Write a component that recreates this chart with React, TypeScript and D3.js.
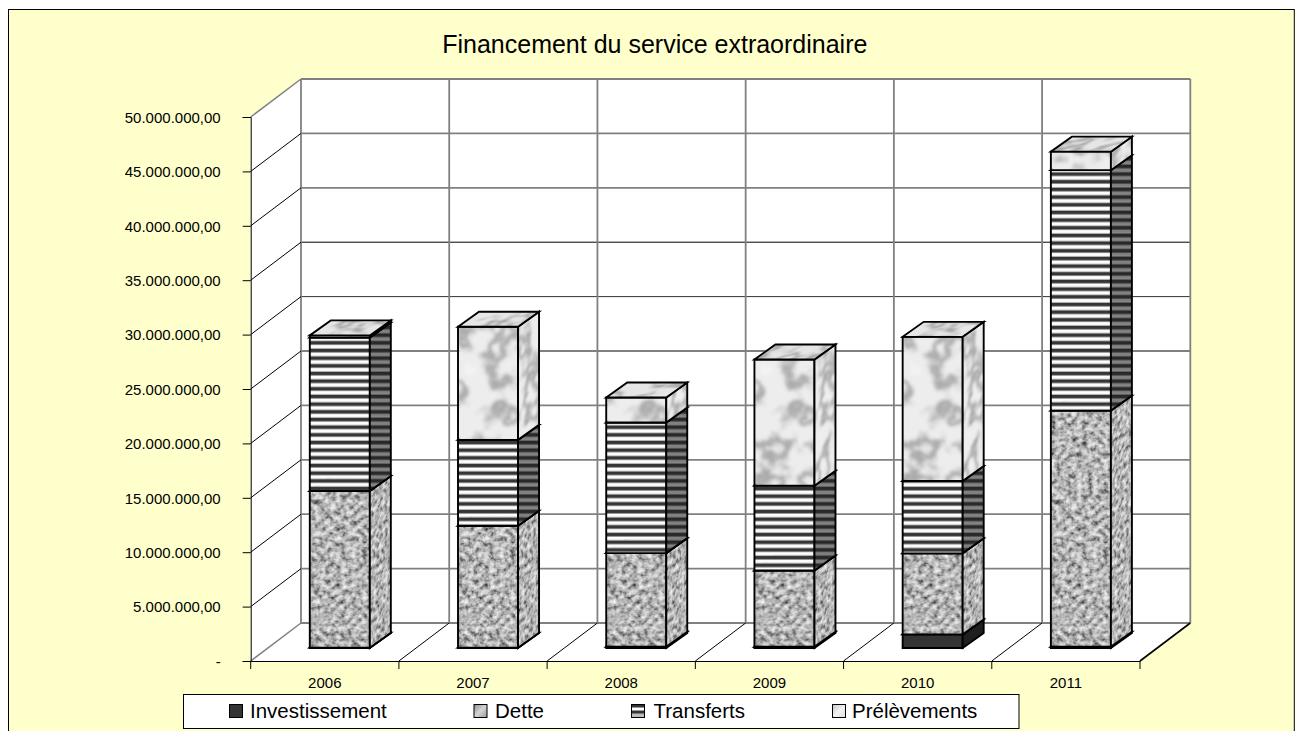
import * as d3 from "d3";
import { useEffect, useRef } from "react";

const years = ["2006", "2007", "2008", "2009", "2010", "2011"];
const seriesNames = ["Investissement", "Dette", "Transferts", "Prélèvements"];

// values in millions
const investissement = [0.03, 0.03, 0.12, 0.12, 1.25, 0.12];
const dette = [14.4, 11.2, 8.6, 7.0, 7.45, 21.7];
const transferts = [14.1, 7.9, 12.0, 7.8, 6.65, 22.1];
const prelevements = [0.2, 10.4, 2.3, 11.6, 13.25, 1.7];

const yTicks = [0, 5, 10, 15, 20, 25, 30, 35, 40, 45, 50];

const rows = years.map((year, i) => ({
    year,
    Investissement: investissement[i],
    Dette: dette[i],
    Transferts: transferts[i],
    "Prélèvements": prelevements[i],
}));

const WIDTH = 1295;
const HEIGHT = 731;

const plot = { left: 250.7, right: 1140, bottom: 661, top: 117 };
const wall = { dx: 50.3, dy: 38 };
const barShift = { x: 15, y: 13 };
const depth = { x: 21, y: 15 };

const frenchFormat = d3.formatLocale({
    decimal: ",",
    thousands: ".",
    grouping: [3],
    currency: ["", ""],
}).format(",.2f");

const faces: Record<string, { front: string; side: string; top: string }> = {
    Investissement: { front: "#333333", side: "#1f1f1f", top: "#2a2a2a" },
    Dette: { front: "url(#granite)", side: "url(#graniteSide)", top: "url(#graniteTop)" },
    Transferts: { front: "url(#stripes)", side: "url(#stripesSide)", top: "#333333" },
    "Prélèvements": { front: "url(#marble)", side: "url(#marbleSide)", top: "url(#marbleTop)" },
};

const keyFill: Record<string, string> = {
    Investissement: "#333333",
    Dette: "url(#keyDette)",
    Transferts: "url(#keyStripes)",
    "Prélèvements": "url(#keyMarble)",
};

const legendPos = [
    { key: 229, text: 250 },
    { key: 473.5, text: 495 },
    { key: 631, text: 653.5 },
    { key: 832, text: 852 },
];

const App = () => {
    const ref = useRef<SVGSVGElement>(null);

    useEffect(() => {
        const svg = d3.select(ref.current);
        svg.selectAll("*").remove();
        svg.style("font-family", "'Liberation Sans', Arial, sans-serif");

        const defs = svg.append("defs");

        const noise = (id, freq, octaves, seed, table, blur) => {
            const f = defs.append("filter")
                .attr("id", id)
                .attr("x", 0).attr("y", 0).attr("width", 1).attr("height", 1)
                .attr("color-interpolation-filters", "sRGB");
            f.append("feTurbulence")
                .attr("type", "fractalNoise")
                .attr("baseFrequency", freq)
                .attr("numOctaves", octaves)
                .attr("seed", seed)
                .attr("stitchTiles", "stitch");
            f.append("feColorMatrix")
                .attr("values", "1 0 0 0 0 1 0 0 0 0 1 0 0 0 0 0 0 0 0 1");
            const t = f.append("feComponentTransfer");
            ["feFuncR", "feFuncG", "feFuncB"].forEach(c =>
                t.append(c).attr("type", "table").attr("tableValues", table));
            f.append("feGaussianBlur").attr("stdDeviation", blur);
        };

        noise("graniteNoise", 0.19, 3, 11, "0.1 0.22 0.4 0.58 0.72 0.82 0.9 0.96 1", 0.75);
        noise("marbleNoise", 0.032, 4, 5, "0.94 0.94 0.94 0.94 0.94 0.94 0.93 0.9 0.83 0.74 0.66 0.74 0.83 0.9 0.93 0.93 0.93 0.93 0.93 0.94 0.95 0.95 0.95 0.95 0.95 0.95", 1.7);

        const texture = (id, filter, transform, shade = 0) => {
            const p = defs.append("pattern")
                .attr("id", id)
                .attr("patternUnits", "userSpaceOnUse")
                .attr("width", 300).attr("height", 1600)
                .attr("patternTransform", transform);
            p.append("rect").attr("width", 300).attr("height", 1600).attr("filter", `url(#${filter})`);
            if (shade) p.append("rect").attr("width", 300).attr("height", 1600).attr("fill", "#000").attr("opacity", shade);
        };
        const skewSide = `skewY(${-Math.atan2(depth.y, depth.x) * 180 / Math.PI}) scale(0.55,1)`;
        const skewTop = `skewX(${-Math.atan2(depth.x, depth.y) * 180 / Math.PI}) scale(1,0.45)`;
        texture("granite", "graniteNoise", "translate(0,0)");
        texture("graniteSide", "graniteNoise", skewSide);
        texture("graniteTop", "graniteNoise", skewTop);
        texture("marble", "marbleNoise", "translate(0,0)");
        texture("marbleSide", "marbleNoise", skewSide);
        texture("marbleTop", "marbleNoise", skewTop, 0.03);

        const stripePattern = (id, bands) => {
            const p = defs.append("pattern")
                .attr("id", id)
                .attr("patternUnits", "userSpaceOnUse")
                .attr("width", 20).attr("height", 7.67);
            let yy = 0;
            bands.forEach(([h, c]) => {
                p.append("rect").attr("y", yy).attr("width", 20).attr("height", h).attr("fill", c);
                yy += h;
            });
        };
        stripePattern("stripes", [[2.8, "#fdfdfd"], [1, "#b4b4b4"], [2.9, "#353535"], [0.97, "#909090"]]);
        stripePattern("stripesSide", [[2.8, "#808080"], [1, "#5c5c5c"], [2.9, "#282828"], [0.97, "#4f4f4f"]]);

        const grad = (id, stops) => {
            const g = defs.append("linearGradient").attr("id", id)
                .attr("x1", 0).attr("y1", 0).attr("x2", 1).attr("y2", 1);
            stops.forEach((c, i) => g.append("stop").attr("offset", i / (stops.length - 1)).attr("stop-color", c));
        };
        grad("keyDette", ["#8f8f8f", "#d5d5d5", "#9a9a9a"]);
        grad("keyMarble", ["#c4c4c4", "#f2f2f2", "#dedede"]);
        const ks = defs.append("pattern").attr("id", "keyStripes")
            .attr("patternUnits", "objectBoundingBox").attr("width", 1).attr("height", 1);
        [["#bbbbbb", 14], ["#333333", 9], ["#ffffff", 6], ["#333333", 3]].forEach(([c, h]) =>
            ks.append("rect").attr("width", 14).attr("height", h).attr("fill", c));

        // scales
        const x = d3.scaleBand().domain(years).range([plot.left, plot.right]);
        const y = d3.scaleLinear().domain([0, 50]).range([plot.bottom, plot.top]);
        const xBar = d3.scaleBand().domain(years)
            .range([plot.left + barShift.x, plot.right + barShift.x])
            .paddingInner(0.595)
            .paddingOuter(0.2975);
        const yBar = (v: number) => y(v) - barShift.y;

        const line = d3.line();
        const poly = (pts) => line(pts) + "Z";

        // frame
        svg.append("rect")
            .attr("x", 8.5).attr("y", 9.5)
            .attr("width", 1285.8).attr("height", HEIGHT)
            .attr("fill", "#FFFFCC")
            .attr("stroke", "#000");

        svg.append("text")
            .attr("x", 654.8).attr("y", 53.3)
            .attr("text-anchor", "middle")
            .attr("font-size", 25)
            .attr("fill", "#000")
            .text("Financement du service extraordinaire");

        // walls and floor
        const backLeft = plot.left + wall.dx;
        const backRight = plot.right + wall.dx;
        const walls = svg.append("g").attr("fill", "#fff").attr("stroke", "none");
        walls.append("path").attr("d", poly([
            [plot.left, y(0)], [backLeft, y(0) - wall.dy], [backLeft, y(50) - wall.dy], [plot.left, y(50)],
        ]));
        walls.append("path").attr("d", poly([
            [backLeft, y(0) - wall.dy], [backRight, y(0) - wall.dy], [backRight, y(50) - wall.dy], [backLeft, y(50) - wall.dy],
        ]));
        walls.append("path").attr("d", poly([
            [plot.left, y(0)], [plot.right, y(0)], [backRight, y(0) - wall.dy], [backLeft, y(0) - wall.dy],
        ]));

        // back wall grid
        const grid = svg.append("g").attr("stroke", "#808080").attr("stroke-width", 1.8);
        yTicks.forEach(t => {
            const thin = t === 35 || t === 30;
            grid.append("line")
                .attr("x1", backLeft).attr("x2", backRight)
                .attr("y1", y(t) - wall.dy).attr("y2", y(t) - wall.dy)
                .attr("stroke", t === 35 ? "#000" : thin ? "#333" : "#808080")
                .attr("stroke-width", thin ? 1 : 1.8);
        });
        [...years, "end"].forEach((yr, i) => {
            const fx = plot.left + i * x.step();
            grid.append("line")
                .attr("x1", fx + wall.dx).attr("x2", fx + wall.dx)
                .attr("y1", y(50) - wall.dy).attr("y2", y(0) - wall.dy);
        });

        // side wall diagonals
        const diag = svg.append("g").attr("fill", "none");
        yTicks.forEach(t => {
            const edge = t === 0 || t === 50;
            diag.append("line")
                .attr("x1", plot.left).attr("y1", y(t))
                .attr("x2", backLeft).attr("y2", y(t) - wall.dy)
                .attr("stroke", edge ? "#808080" : "#000")
                .attr("stroke-width", edge ? 1.5 : 1);
        });
        // floor diagonals
        [...years, "end"].forEach((yr, i) => {
            if (i === 0) return;
            const fx = plot.left + i * x.step();
            diag.append("line")
                .attr("x1", fx).attr("y1", y(0))
                .attr("x2", fx + wall.dx).attr("y2", y(0) - wall.dy)
                .attr("stroke", "#000")
                .attr("stroke-width", i === years.length ? 1.6 : 1);
        });

        // axes
        const axisLeft = d3.axisLeft(y)
            .tickValues(yTicks)
            .tickSize(8)
            .tickPadding(22)
            .tickFormat(d => (d === 0 ? "-" : frenchFormat(+d * 1e6)));
        const gy = svg.append("g")
            .attr("transform", `translate(${plot.left},0)`)
            .call(axisLeft);
        const axisBottom = d3.axisBottom(x).tickSize(0).tickPadding(16);
        const gx = svg.append("g")
            .attr("transform", `translate(0,${plot.bottom})`)
            .call(axisBottom);
        [...years, "end"].forEach((yr, i) => {
            const fx = plot.left + i * x.step();
            gx.append("line").attr("x1", fx).attr("x2", fx).attr("y1", 0).attr("y2", 8).attr("stroke", "#000");
        });
        [gy, gx].forEach(g => {
            g.attr("font-family", null).attr("font-size", null);
            g.selectAll("text").attr("font-size", 15).attr("fill", "#000");
            g.selectAll(".domain, line").attr("stroke", "#000");
        });
        gy.selectAll("text").attr("dy", "0.35em");
        gx.selectAll("text").attr("dy", "0.71em");

        // stacked 3D bars
        const stacked = d3.stack().keys(seriesNames)(rows);
        const bars = svg.append("g")
            .attr("stroke", "#000")
            .attr("stroke-width", 1.9)
            .attr("stroke-linejoin", "miter");
        years.forEach((year, i) => {
            const bw = xBar.bandwidth();
            const g = bars.append("g").attr("transform", `translate(${xBar(year)},0)`);
            stacked.forEach(layer => {
                const [v0, v1] = layer[i];
                const y0 = yBar(v0);
                const y1 = yBar(v1);
                const fill = faces[layer.key];
                g.append("path").attr("fill", fill.front).attr("d", poly([
                    [0, y0], [bw, y0], [bw, y1], [0, y1],
                ]));
                g.append("path").attr("fill", fill.side).attr("d", poly([
                    [bw, y0], [bw + depth.x, y0 - depth.y], [bw + depth.x, y1 - depth.y], [bw, y1],
                ]));
                g.append("path").attr("fill", fill.top).attr("d", poly([
                    [0, y1], [bw, y1], [bw + depth.x, y1 - depth.y], [depth.x, y1 - depth.y],
                ]));
            });
        });

        // legend
        const legend = svg.append("g");
        legend.append("rect")
            .attr("x", 183.5).attr("y", 694.5)
            .attr("width", 835.5).attr("height", 34)
            .attr("fill", "#fff").attr("stroke", "#000");
        seriesNames.forEach((name, i) => {
            legend.append("rect")
                .attr("x", legendPos[i].key + 0.5).attr("y", 704.5)
                .attr("width", 13).attr("height", 13)
                .attr("fill", keyFill[name])
                .attr("stroke", "#000");
            legend.append("text")
                .attr("x", legendPos[i].text).attr("y", 718)
                .attr("font-size", 20.5)
                .attr("fill", "#000")
                .text(name);
        });
    }, []);

    return (
        <svg
            ref={ref}
            width={WIDTH}
            height={HEIGHT}
            style={{ position: "absolute", left: 0, top: 0, display: "block" }}
        />
    );
};

export default App;
